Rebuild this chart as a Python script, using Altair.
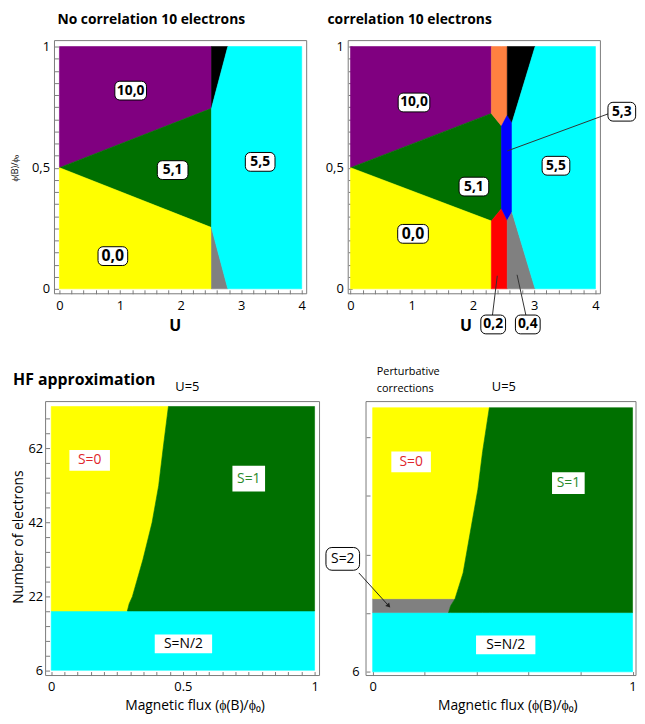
import altair as alt
import pandas as pd

FONT = "Open Sans"
FRAME = "#7a7a7a"

REGION_NAMES = ["purple", "green", "yellow", "black", "gray", "cyan", "orange", "red", "blue"]
REGION_COLORS = ["#800080", "#007000", "#ffff00", "#000000", "#808080", "#00ffff", "#ff8040", "#ff0000", "#0000ff"]

# ---------------- Panel A: no correlation, 10 electrons (x = U, y = phi/phi0)
A_regions = [
    ("purple", [0, 2.51], [0.5, 0.745], [1, 1]),
    ("green", [0, 2.51], [0.5, 0.253], [0.5, 0.745]),
    ("yellow", [0, 2.51], [0, 0], [0.5, 0.253]),
    ("black", [2.51, 2.78], [0.745, 1], [1, 1]),
    ("gray", [2.51, 2.78], [0, 0], [0.253, 0]),
    ("cyan", [2.51, 2.78, 4], [0.253, 0, 0], [0.745, 1, 1]),
]
A_box_text = ["10,0", "5,1", "5,5", "0,0"]
A_box_x = [1.176, 1.869, 3.314, 0.882]
A_box_y = [0.818, 0.490, 0.524, 0.135]

# ---------------- Panel B: correlation, 10 electrons
B_regions = [
    ("purple", [0, 2.30], [0.5, 0.724], [1, 1]),
    ("green", [0, 2.30, 2.466], [0.5, 0.28, 0.331], [0.5, 0.724, 0.672]),
    ("yellow", [0, 2.30], [0, 0], [0.5, 0.28]),
    ("orange", [2.30, 2.466, 2.56], [0.724, 0.672, 0.717], [1, 1, 1]),
    ("red", [2.30, 2.466, 2.56], [0, 0, 0], [0.28, 0.331, 0.283]),
    ("blue", [2.466, 2.56, 2.638], [0.331, 0.283, 0.317], [0.672, 0.717, 0.686]),
    ("black", [2.56, 2.638, 3.015], [0.717, 0.686, 1], [1, 1, 1]),
    ("gray", [2.56, 2.638, 3.015], [0, 0, 0], [0.283, 0.317, 0]),
    ("cyan", [2.638, 3.015, 4], [0.317, 0, 0], [0.686, 1, 1]),
]
B_box_text = ["10,0", "5,1", "5,5", "0,0", "5,3", "0,2", "0,4"]
B_box_x = [1.037, 2.015, 3.355, 1.021, 4.43, 2.33, 2.895]
B_box_y = [0.769, 0.422, 0.508, 0.227, 0.731, -0.147, -0.147]
B_lead_x = [4.205, 2.317, 2.866]
B_lead_y = [0.722, -0.111, -0.111]
B_lead_x2 = [2.559, 2.397, 2.72]
B_lead_y2 = [0.569, 0.054, 0.058]

# ---------------- Panel C: HF approximation (x = flux, y = electron-number index: 6,22,42,62)
N_labels = ["6", "22", "42", "62"]
C_regions = [
    ("cyan", [0, 1], [0, 0], [0.802, 0.802]),
    ("yellow", [0, 0.289, 0.296, 0.308, 0.348, 0.383, 0.408, 0.425, 0.445],
     [0.802, 0.802, 0.9, 0.995, 1.493, 1.997, 2.496, 3.0, 3.566], [3.566] * 9),
    ("green", [0.289, 0.296, 0.308, 0.348, 0.383, 0.408, 0.425, 0.445, 1], [0.802] * 9,
     [0.802, 0.9, 0.995, 1.493, 1.997, 2.496, 3.0, 3.566, 3.566]),
]
C_box_text = ["S=0", "S=1", "S=N/2"]
C_box_x = [0.146, 0.750, 0.502]
C_box_y = [2.837, 2.59, 0.357]

# ---------------- Panel D: perturbative corrections
D_regions = [
    ("cyan", [0, 1], [0, 0], [0.808, 0.808]),
    ("gray", [0, 0.292, 0.300, 0.317], [0.808, 0.808, 0.9, 0.997], [0.997] * 4),
    ("yellow", [0, 0.317, 0.348, 0.38, 0.405, 0.423, 0.449],
     [0.997, 0.997, 1.348, 1.99, 2.49, 3.0, 3.60], [3.60] * 7),
    ("green", [0.292, 0.300, 0.317, 0.348, 0.38, 0.405, 0.423, 0.449, 1], [0.808] * 9,
     [0.808, 0.9, 0.997, 1.348, 1.99, 2.49, 3.0, 3.60, 3.60]),
]
D_box_text = ["S=0", "S=1", "S=N/2", "S=2"]
D_box_x = [0.148, 0.753, 0.512, -0.115]
D_box_y = [2.861, 2.571, 0.368, 1.54]
D_arrow_x = [-0.053]
D_arrow_y = [1.348]
D_arrow_x2 = [0.06]
D_arrow_y2 = [0.907]

cscale = alt.Scale(domain=REGION_NAMES, range=REGION_COLORS)


def label_expr(majors, labels):
    parts = [f"abs(datum.value-({m}))<1e-6 ? '{l}'" for m, l in zip(majors, labels)]
    return " : ".join(parts) + " : ''"


def regions_df(regions):
    rows = []
    for name, xs, los, his in regions:
        for x, lo, hi in zip(xs, los, his):
            rows.append({"region": name, "x": x, "y": lo, "y2": hi})
    return pd.DataFrame(rows)


def lin(p0, d0, p1, d1):
    return lambda p: d0 + (p - p0) * (d1 - d0) / (p1 - p0)


def make_panel(regions, view, frame, cal, xticks, xmaj, xlab, yticks, ymaj, ylab,
               xpad, ypad, tfs, boxes, texts, leads=None, arrow=None):
    vx0, vx1, vy0, vy1 = view
    fx0, fx1, fy0, fy1 = frame
    tox = lin(cal[0], cal[1], cal[2], cal[3])
    toy = lin(cal[4], cal[5], cal[6], cal[7])
    xdom = [tox(vx0), tox(vx1)]
    ydom = [toy(vy1), toy(vy0)]
    w, h = vx1 - vx0, vy1 - vy0
    xs = alt.Scale(domain=xdom, nice=False, zero=False)
    ys = alt.Scale(domain=ydom, nice=False, zero=False)
    X = alt.X("x:Q", scale=xs,
              axis=alt.Axis(values=xticks, labelExpr=label_expr(xmaj, xlab), tickSize=4,
                            offset=-(vy1 - fy1) - 4,
                            domain=False, grid=False, labelPadding=xpad, labelFontSize=tfs,
                            labelFont=FONT, tickColor=FRAME, labelColor="black", title=None,
                            labelOverlap=False, labelFlush=False))
    Y = alt.Y("y:Q", scale=ys,
              axis=alt.Axis(values=yticks, labelExpr=label_expr(ymaj, ylab), tickSize=4,
                            offset=-(fx0 - vx0) - 4,
                            domain=False, grid=False, labelPadding=ypad, labelFontSize=tfs,
                            labelFont=FONT, tickColor=FRAME, labelColor="black", title=None,
                            labelOverlap=False, labelFlush=False))
    layers = [alt.Chart(regions_df(regions)).mark_area(strokeWidth=0.6).encode(
        x=X, y=Y, y2="y2:Q",
        color=alt.Color("region:N", scale=cscale, legend=None),
        stroke=alt.Stroke("region:N", scale=cscale, legend=None))]
    fdf = pd.DataFrame({"x": [tox(fx0)], "x2": [tox(fx1)], "y": [toy(fy1)], "y2": [toy(fy0)]})
    layers.append(alt.Chart(fdf).mark_rect(fillOpacity=0, stroke=FRAME, strokeWidth=1).encode(
        x=X, y=Y, x2="x2:Q", y2="y2:Q"))
    if leads is not None:
        layers.append(alt.Chart(pd.DataFrame(leads)).mark_rule(color="#333333", strokeWidth=1).encode(
            x=X, y=Y, x2="x2:Q", y2="y2:Q"))
    if arrow is not None:
        adf = pd.DataFrame(arrow)
        layers.append(alt.Chart(adf).mark_rule(color="#222222", strokeWidth=1).encode(
            x=X, y=Y, x2="x2:Q", y2="y2:Q"))
        layers.append(alt.Chart(adf).mark_point(shape="triangle", filled=True, size=28, angle=138,
                                                color="#222222", opacity=1).encode(
            x=alt.X("x2:Q", scale=xs), y=alt.Y("y2:Q", scale=ys)))
    for b in boxes:
        d = pd.DataFrame({"x": [b["x"]], "y": [b["y"]], "t": [b["t"]]})
        rk = dict(width=b["w"], height=b["h"], fill="white", cornerRadius=b.get("r", 0))
        if b.get("border", False):
            rk["stroke"] = "black"
            rk["strokeWidth"] = 1
        layers.append(alt.Chart(d).mark_rect(**rk).encode(x=X, y=Y))
        layers.append(alt.Chart(d).mark_text(font=FONT, fontSize=b["fs"], fontWeight=b.get("fw", "normal"),
                                             color=b.get("c", "black"), align="center",
                                             baseline="middle").encode(x=X, y=Y, text="t:N"))
    for t in texts:
        d = pd.DataFrame({"x": [t["x"]], "y": [t["y"]], "t": [t["t"]]})
        layers.append(alt.Chart(d).mark_text(font=FONT, fontSize=t["fs"], fontWeight=t.get("fw", "normal"),
                                             color="black", align=t.get("align", "center"),
                                             baseline=t.get("base", "alphabetic"),
                                             angle=t.get("angle", 0)).encode(x=X, y=Y, text="t:N"))
    return alt.layer(*layers).properties(width=w, height=h)


# ---- ticks
top_xticks = [round(i * 0.2, 3) for i in range(21)]
top_yticks = [round(i * 0.05, 3) for i in range(21)]
bot_xticks = [round(i * 0.05, 3) for i in range(21)]
C_yticks = [round(i * 0.2, 3) for i in range(18)]
D_yticks = [round(i * 0.2, 3) for i in range(19)]

A_w = [32, 31, 30, 30]
A_fs = [14, 14, 14, 16]
A_boxes = [dict(t=t, x=x, y=y, w=w, h=19, r=5, border=True, fs=f, fw="bold")
           for t, x, y, w, f in zip(A_box_text, A_box_x, A_box_y, A_w, A_fs)]
B_w = [32, 30, 28, 31, 28, 25, 25]
B_fs = [14, 14, 14, 16, 14, 14, 14]
B_boxes = [dict(t=t, x=x, y=y, w=w, h=19, r=5, border=True, fs=f, fw="bold")
           for t, x, y, w, f in zip(B_box_text, B_box_x, B_box_y, B_w, B_fs)]

C_w = [41, 33, 58]
C_h = [21, 26, 19]
C_col = ["#e0262b", "#2a8a2a", "black"]
C_boxes = [dict(t=t, x=x, y=y, w=w, h=hh, fs=14, c=c)
           for t, x, y, w, hh, c in zip(C_box_text, C_box_x, C_box_y, C_w, C_h, C_col)]
D_w = [40, 33, 60, 34]
D_h = [21, 22, 19, 23]
D_col = ["#e0262b", "#2a8a2a", "black", "black"]
D_boxes = [dict(t=t, x=x, y=y, w=w, h=hh, fs=14, c=c, r=(6 if t == "S=2" else 0), border=(t == "S=2"))
           for t, x, y, w, hh, c in zip(D_box_text, D_box_x, D_box_y, D_w, D_h, D_col)]

A_texts = [
    dict(t="No correlation 10 electrons", x=-0.033, y=1.094, fs=14, fw="bold", align="left"),
    dict(t="U", x=1.91, y=-0.152, fs=16, fw="bold", base="middle"),
    dict(t="ϕ(B)/ϕ₀", x=-0.735, y=0.498, fs=9, angle=270, base="middle"),
]
B_texts = [
    dict(t="correlation 10 electrons", x=-0.376, y=1.094, fs=14, fw="bold", align="left"),
    dict(t="U", x=1.885, y=-0.152, fs=16, fw="bold", base="middle"),
]
C_texts = [
    dict(t="HF approximation", x=-0.145, y=3.86, fs=16, fw="bold", align="left"),
    dict(t="U=5", x=0.517, y=3.77, fs=13),
    dict(t="Number of electrons", x=-0.123, y=1.80, fs=14, angle=270, base="middle"),
    dict(t="Magnetic flux (ϕ(B)/ϕ₀)", x=0.546, y=-0.539, fs=14),
]
D_texts = [
    dict(t="Perturbative", x=0.016, y=4.05, fs=11, align="left"),
    dict(t="corrections", x=0.016, y=3.82, fs=11, align="left"),
    dict(t="U=5", x=0.505, y=3.83, fs=13),
    dict(t="Magnetic flux (ϕ(B)/ϕ₀)", x=0.52, y=-0.522, fs=14),
]

# page-pixel layout: view box, frame box, calibration (pixel, value) pairs for x and y
pA = make_panel(A_regions, (45, 309, 35, 291), (54, 309, 35, 291), (59, 0, 304, 4, 286, 0, 41, 1),
                top_xticks, [0, 1, 2, 3, 4], ["0", "1", "2", "3", "4"],
                top_yticks, [0, 0.5, 1], ["0", "0,5", "1"], 6, 5, 13, A_boxes, A_texts)
pB = make_panel(B_regions, (351, 606, 35, 291), (351, 606, 35, 291), (353.3, 0, 601, 4, 286, 0, 41, 1),
                top_xticks, [0, 1, 2, 3, 4], ["0", "1", "2", "3", "4"],
                top_yticks, [0, 0.5, 1], ["0", "0,5", "1"], 6, 5, 13, B_boxes, B_texts,
                leads={"x": B_lead_x, "y": B_lead_y, "x2": B_lead_x2, "y2": B_lead_y2})
pC = make_panel(C_regions, (45, 322, 400, 677), (45, 322, 400, 677), (50.7, 0, 317, 1, 671.7, 0, 447.3, 3),
                bot_xticks, [0, 0.5, 1], ["0", "0.5", "1"],
                C_yticks, [0, 1, 2, 3], N_labels, 5, 3, 13, C_boxes, C_texts)
pD = make_panel(D_regions, (351, 642, 400, 677), (369, 642, 400, 677), (375.7, 0, 638.5, 1, 673.3, 0, 450.7, 3),
                bot_xticks, [0, 0.5, 1], ["0", "0.5", "1"],
                D_yticks, [0, 1, 2, 3], N_labels, 5, 7, 13, D_boxes, D_texts,
                arrow={"x": D_arrow_x, "y": D_arrow_y, "x2": D_arrow_x2, "y2": D_arrow_y2})

chart = alt.concat(pA, pB, pC, pD, columns=2, spacing={"row": 109, "column": 29},
                   bounds="flush").properties(
    padding={"left": 2, "top": 0, "right": 0, "bottom": 2}
).configure_view(strokeOpacity=0)

chart.save("out.html", embed_options={"renderer": "svg", "actions": False})
